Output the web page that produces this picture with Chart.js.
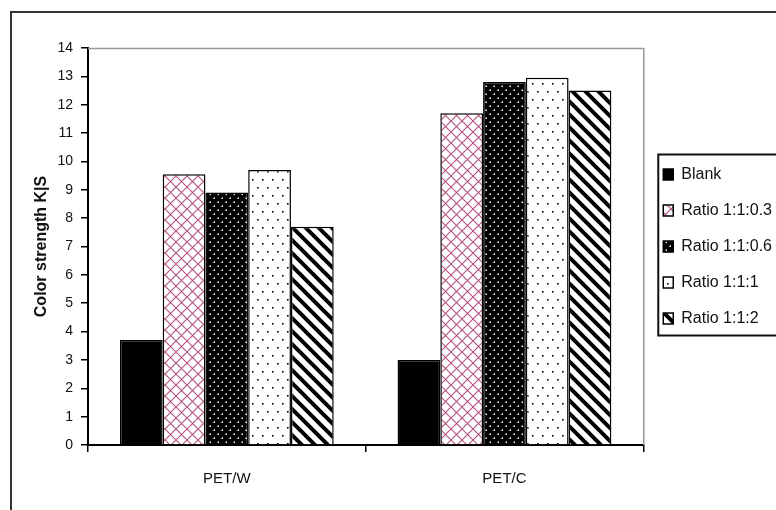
<!DOCTYPE html>
<html>
<head>
<meta charset="utf-8">
<script src="https://cdn.jsdelivr.net/npm/chart.js@4.4.1/dist/chart.umd.min.js"></script>
<style>
  html, body { margin: 0; padding: 0; background: #fff; overflow: hidden; width: 776px; height: 510px; }
  #frame { position: absolute; left: 10px; top: 11px; width: 900px; height: 600px; border: 2px solid #333; }
  #chart { position: absolute; left: 0; top: 0; }
</style>
</head>
<body>
<div id="frame"></div>
<canvas id="chart" width="782" height="510"></canvas>
<script>
// ── Dados ──────────────────────────────────────────────
const categories = ['PET/W', 'PET/C'];
const seriesNames = ['Blank', 'Ratio 1:1:0.3', 'Ratio 1:1:0.6', 'Ratio 1:1:1', 'Ratio 1:1:2'];
const blank   = [3.7, 3.0];
const r1103   = [9.55, 11.7];
const r1106   = [8.9, 12.8];
const r111    = [9.7, 12.95];
const r112    = [7.7, 12.5];
const yTicks  = [0, 14, 1]; // min, max, step

// ── Padrões de preenchimento ───────────────────────────
function tile(w, h, draw) {
  const c = document.createElement('canvas');
  c.width = w; c.height = h;
  const g = c.getContext('2d');
  draw(g, w, h);
  return document.getElementById('chart').getContext('2d').createPattern(c, 'repeat');
}

const crossHatch = tile(11, 11, (g, w, h) => {
  g.fillStyle = '#fff'; g.fillRect(0, 0, w, h);
  g.strokeStyle = '#b4507f'; g.lineWidth = 1.1;
  g.beginPath();
  g.moveTo(0, 0); g.lineTo(w, h);
  g.moveTo(w, 0); g.lineTo(0, h);
  g.stroke();
});

const darkDots = tile(8, 8, (g, w, h) => {
  g.fillStyle = '#000'; g.fillRect(0, 0, w, h);
  g.fillStyle = '#fff';
  g.fillRect(1.5, 1.5, 1.5, 1.5);
  g.fillRect(5.5, 5.5, 1.5, 1.5);
});

const lightDots = tile(10, 16, (g, w, h) => {
  g.fillStyle = '#fff'; g.fillRect(0, 0, w, h);
  g.fillStyle = '#000';
  g.fillRect(2, 3, 1.6, 1.6);
  g.fillRect(7, 11, 1.6, 1.6);
});

const stripes = tile(13, 13, (g, s) => {
  g.fillStyle = '#fff'; g.fillRect(0, 0, s, s);
  g.strokeStyle = '#000'; g.lineWidth = 4;
  g.beginPath();
  for (let k = -1; k <= 1; k++) {
    g.moveTo(k * s - 2, -2); g.lineTo(k * s + s + 2, s + 2);
  }
  g.stroke();
});

const fills = ['#000', crossHatch, darkDots, lightDots, stripes];
const values = [blank, r1103, r1106, r111, r112];

// ── Plugins: moldura do gráfico e da legenda ────────────
const framePlugin = {
  id: 'frames',
  afterDraw(chart) {
    const { ctx, chartArea: a, legend } = chart;
    ctx.save();
    ctx.strokeStyle = '#999';
    ctx.lineWidth = 1.5;
    ctx.beginPath();
    ctx.moveTo(a.left, a.top + 0.5);
    ctx.lineTo(a.right + 0.5, a.top + 0.5);
    ctx.lineTo(a.right + 0.5, a.bottom);
    ctx.stroke();

    const hb = legend.legendHitBoxes;
    if (hb && hb.length) {
      const top = hb[0].top - 12;
      const last = hb[hb.length - 1];
      const bottom = last.top + last.height + 9;
      ctx.strokeStyle = '#111';
      ctx.lineWidth = 2;
      ctx.strokeRect(legend.left + 15, top, 200, bottom - top);
    }
    ctx.restore();
  },
};

new Chart(document.getElementById('chart'), {
  type: 'bar',
  data: {
    labels: categories,
    datasets: seriesNames.map((name, i) => ({
      label: name,
      data: values[i],
      backgroundColor: fills[i],
      borderColor: '#000',
      borderWidth: 1.5,
      categoryPercentage: 0.77,
      barPercentage: 1,
    })),
  },
  options: {
    responsive: false,
    animation: false,
    layout: { padding: { top: 48, left: 20, right: 0, bottom: 0 } },
    plugins: {
      tooltip: { enabled: false },
      legend: {
        position: 'right',
        align: 'center',
        fullSize: false,
        labels: {
          color: '#111',
          font: { family: 'Liberation Sans, Arial', size: 16 },
          boxWidth: 10,
          boxHeight: 11,
          padding: 20,
        },
      },
    },
    scales: {
      x: {
        afterFit: (s) => { s.height = 65; },
        grid: { offset: true, drawOnChartArea: false, tickLength: 7, color: '#000', lineWidth: 1.5 },
        border: { display: true, color: '#000', width: 2 },
        ticks: { color: '#111', padding: 18, font: { family: 'Liberation Sans, Arial', size: 15 } },
      },
      y: {
        min: yTicks[0],
        max: yTicks[1],
        afterFit: (s) => { s.width = 68; },
        grid: { drawOnChartArea: false, tickLength: 7, color: '#000', lineWidth: 1.5 },
        border: { display: true, color: '#000', width: 2 },
        ticks: { stepSize: yTicks[2], color: '#111', padding: 8, font: { family: 'Liberation Sans, Arial', size: 14 } },
        title: {
          display: true,
          text: 'Color strength K|S',
          color: '#111',
          padding: { top: 12, bottom: 0 },
          font: { family: 'Liberation Sans, Arial', size: 16, weight: 'bold' },
        },
      },
    },
  },
  plugins: [framePlugin],
});
</script>
</body>
</html>
